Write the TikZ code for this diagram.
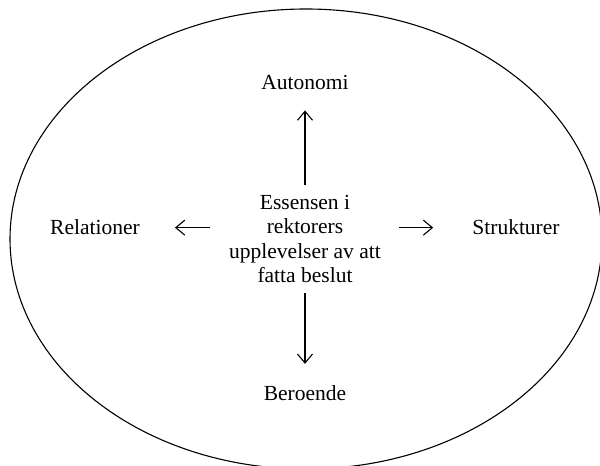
\documentclass[tikz,border=0pt]{standalone}
\usepackage{fontspec}
\setmainfont{Liberation Serif}
\usetikzlibrary{arrows.meta}
\tikzset{
  lbl/.style={inner sep=0pt, font=\fontsize{21.5}{24.5}\selectfont},
  arr/.style={line width=1.1pt, -{Straight Barb[length=9pt,width=15pt,line width=1.1pt]}},
}
\begin{document}
\begin{tikzpicture}[x=1pt,y=1pt]
\useasboundingbox (0,0) rectangle (600,466);
\clip (0,0) rectangle (600,466);
\fill[white] (0,0) rectangle (600,466);
\draw[line width=1.1pt] (306,227) ellipse [x radius=296, y radius=230];
\node[lbl, align=center] (c) at (305,227) {Essensen i\\rektorers\\upplevelser av att\\fatta beslut};
\node[lbl, anchor=base] (a) at (305,376) {Autonomi};
\node[lbl, anchor=base] (b) at (305,65) {Beroende};
\node[lbl, anchor=base] (r) at (95,231) {Relationer};
\node[lbl, anchor=base] (s) at (516,231) {Strukturer};
\draw[arr, shorten <=10pt, shorten >=20pt] (c.north) -- (a.south);
\draw[arr, shorten <=10pt, shorten >=22pt] (c.south) -- (b.north);
\draw[arr, shorten <=19pt, shorten >=35pt] (c.west |- r.east) -- (r.east);
\draw[arr, shorten <=18pt, shorten >=39pt] (c.east |- s.west) -- (s.west);
\end{tikzpicture}
\end{document}
